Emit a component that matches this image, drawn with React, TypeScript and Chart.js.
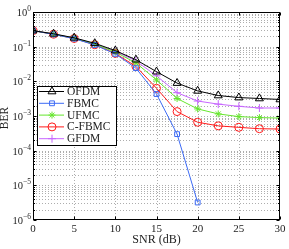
import React, { useEffect, useRef } from "react";
import { Chart, registerables } from "chart.js";
import { drawPoint } from "chart.js/helpers";

Chart.register(...registerables);

const snr = [0, 2.5, 5, 7.5, 10, 12.5, 15, 17.5, 20, 22.5, 25, 27.5, 30];
const ofdm = [0.29, 0.235, 0.18, 0.125, 0.077, 0.042, 0.019, 0.0089, 0.0053, 0.0039, 0.0034, 0.0032, 0.003];
const fbmc = [0.29, 0.226, 0.17, 0.112, 0.062, 0.024, 0.0043, 0.0003, 3.2e-6, null, null, null, null];
const ufmc = [0.29, 0.23, 0.175, 0.118, 0.07, 0.034, 0.011, 0.0032, 0.0016, 0.00115, 0.00096, 0.0009, 0.00087];
const cfbmc = [0.29, 0.228, 0.172, 0.114, 0.064, 0.027, 0.0063, 0.00134, 0.00066, 0.00052, 0.00047, 0.00043, 0.00042];
const gfdm = [0.29, 0.232, 0.177, 0.12, 0.073, 0.039, 0.0144, 0.0047, 0.0027, 0.0022, 0.0019, 0.0017, 0.0017];

const xTicks = [0, 5, 10, 15, 20, 25, 30];
const yDecades = [0, -1, -2, -3, -4, -5, -6];
const xTitle = "SNR (dB)";
const yTitle = "BER";

const FONT = "'Liberation Serif', 'DejaVu Serif', serif";

function yTickValues() {
  const out: number[] = [];
  for (let e = -6; e <= 0; e++) {
    if (e === 0) { out.push(1); break; }
    for (let m = 1; m <= 9; m++) out.push(m * Math.pow(10, e));
  }
  return out;
}

const framePlugin = {
  id: "frame",
  beforeDatasetsDraw(chart: any) {
    const { ctx, chartArea: a, scales } = chart;
    const xs = scales.x, ys = scales.y;
    ctx.save();
    ctx.strokeStyle = "rgba(0,0,0,0.32)";
    ctx.lineWidth = 1;
    ctx.setLineDash([1, 2]);
    xTicks.forEach((v) => {
      if (v === 0 || v === 30) return;
      const x = Math.round(xs.getPixelForValue(v)) + 0.5;
      ctx.beginPath(); ctx.moveTo(x, a.top); ctx.lineTo(x, a.bottom); ctx.stroke();
    });
    yTickValues().forEach((v) => {
      if (v <= 1e-6 * 1.0001 || v >= 0.9999) return;
      const y = Math.round(ys.getPixelForValue(v)) + 0.5;
      ctx.beginPath(); ctx.moveTo(a.left, y); ctx.lineTo(a.right, y); ctx.stroke();
    });
    ctx.restore();
  },
  afterDraw(chart: any) {
    const { ctx, chartArea: a, scales } = chart;
    const xs = scales.x, ys = scales.y;
    ctx.save();
    ctx.setLineDash([]);
    ctx.strokeStyle = "#000";
    ctx.lineWidth = 1;
    const L = Math.round(a.left) + 0.5, R = Math.round(a.right) - 0.5;
    const T = Math.round(a.top) + 0.5, B = Math.round(a.bottom) - 0.5;
    ctx.strokeRect(L, T, R - L, B - T);
    ctx.beginPath();
    xTicks.forEach((v) => {
      const x = Math.round(xs.getPixelForValue(v)) + 0.5;
      ctx.moveTo(x, B); ctx.lineTo(x, B - 3);
      ctx.moveTo(x, T); ctx.lineTo(x, T + 3);
    });
    yTickValues().forEach((v) => {
      const y = Math.round(ys.getPixelForValue(v)) + 0.5;
      const major = Math.abs(Math.log10(v) - Math.round(Math.log10(v))) < 1e-6;
      const len = major ? 3 : 1.5;
      ctx.moveTo(L, y); ctx.lineTo(L + len, y);
      ctx.moveTo(R, y); ctx.lineTo(R - len, y);
    });
    ctx.stroke();
    ctx.fillStyle = "#222";
    yDecades.forEach((e) => {
      const y = ys.getPixelForValue(Math.pow(10, e));
      const exp = e === 0 ? "0" : "\u2212" + String(-e);
      ctx.font = `7.5px ${FONT}`;
      const ew = ctx.measureText(exp).width;
      ctx.textAlign = "left";
      ctx.textBaseline = "alphabetic";
      const right = 31;
      ctx.fillText(exp, right - ew, y - 1);
      ctx.font = `10.5px ${FONT}`;
      ctx.textAlign = "right";
      ctx.fillText("10", right - ew, y + 4);
    });
    ctx.save();
    ctx.translate(5, 118);
    ctx.rotate(-Math.PI / 2);
    ctx.font = `11.5px ${FONT}`;
    ctx.textAlign = "center";
    ctx.textBaseline = "middle";
    ctx.fillText(yTitle, 0, 0);
    ctx.restore();
    const lx = 37.5, ly = 86.5, lw = 79, lh = 59;
    ctx.fillStyle = "#fff";
    ctx.fillRect(lx, ly, lw, lh);
    ctx.strokeStyle = "#000";
    ctx.strokeRect(lx, ly, lw, lh);
    chart.data.datasets.forEach((ds: any, i: number) => {
      const y = 91.5 + i * 11.8;
      ctx.strokeStyle = ds.borderColor;
      ctx.fillStyle = "transparent";
      ctx.lineWidth = 1;
      ctx.beginPath(); ctx.moveTo(39, y); ctx.lineTo(64, y); ctx.stroke();
      drawPoint(ctx, {
        pointStyle: ds.pointStyle,
        radius: ds.pointRadius,
        borderWidth: 1,
        rotation: 0,
      } as any, 52, y);
      ctx.fillStyle = "#222";
      ctx.font = `11.5px ${FONT}`;
      ctx.textAlign = "left";
      ctx.textBaseline = "middle";
      ctx.fillText(ds.label, 67, y + 0.5);
    });
    ctx.restore();
  },
};

export default function App() {
  const ref = useRef<HTMLCanvasElement | null>(null);
  useEffect(() => {
    document.body.style.margin = "0";
    if (!ref.current) return;
    const mk = (label: string, data: any[], color: string, style: string, r: number, fill = "transparent") => ({
      label,
      data: snr.map((x, i) => ({ x, y: data[i] == null ? null : data[i] })),
      borderColor: color,
      backgroundColor: fill,
      pointBackgroundColor: fill,
      pointBorderColor: color,
      pointStyle: style,
      pointRadius: r,
      pointBorderWidth: 1,
      borderWidth: 1,
      tension: 0,
      spanGaps: false,
    });
    const chart = new Chart(ref.current, {
      type: "line",
      data: {
        datasets: [
          mk("OFDM", ofdm, "#000000", "triangle", 4.6),
          mk("FBMC", fbmc, "#3d6bf5", "rect", 3.4),
          mk("UFMC", ufmc, "#66e62e", "star", 3.5),
          mk("C-FBMC", cfbmc, "#ff1a1a", "circle", 4),
          mk("GFDM", gfdm, "#c766ff", "cross", 4),
        ] as any,
      },
      options: {
        animation: false,
        responsive: false,
        layout: { padding: { top: 12, right: 9, left: 0, bottom: 0 } },
        plugins: { legend: { display: false }, tooltip: { enabled: false } },
        scales: {
          x: {
            type: "linear",
            min: 0,
            max: 30,
            afterBuildTicks: (s: any) => { s.ticks = xTicks.map((v) => ({ value: v })); },
            afterFit: (s: any) => { s.height = 29; },
            ticks: { font: { family: FONT, size: 11 }, color: "#222", padding: 3, maxRotation: 0 },
            grid: { display: false, drawTicks: false },
            border: { display: false },
            title: { display: true, text: xTitle, font: { family: FONT, size: 12 }, color: "#222", padding: { top: 0, bottom: 2 } },
          },
          y: {
            type: "logarithmic",
            min: 1e-6,
            max: 1,
            afterBuildTicks: (s: any) => { s.ticks = yTickValues().map((v) => ({ value: v })); },
            afterFit: (s: any) => { s.width = 33; },
            ticks: { display: false },
            grid: { display: false, drawTicks: false },
            border: { display: false },
          },
        },
      } as any,
      plugins: [framePlugin],
    });
    return () => chart.destroy();
  }, []);
  return (
    <div style={{ width: 289, height: 249 }}>
      <canvas ref={ref} width={289} height={249} style={{ display: "block" }} />
    </div>
  );
}
